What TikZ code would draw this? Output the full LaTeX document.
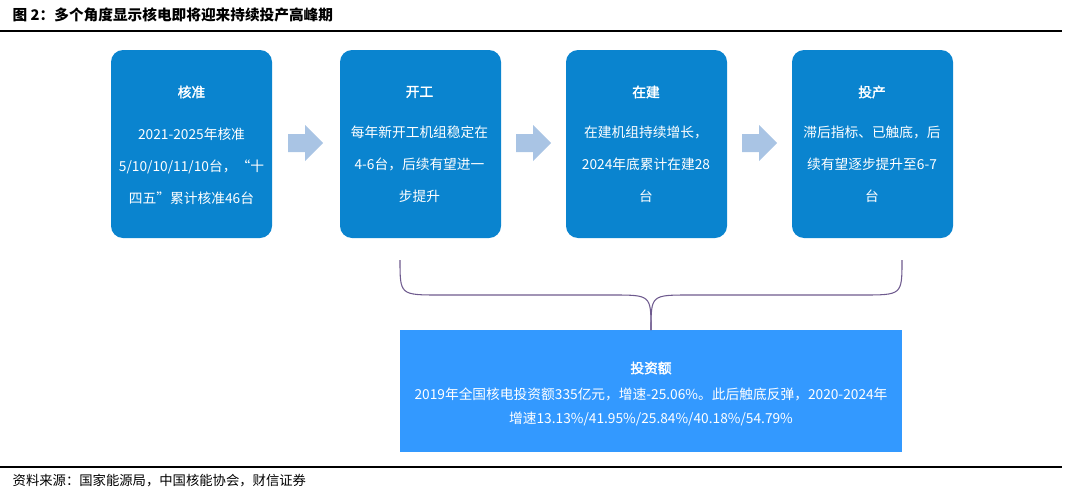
\documentclass[tikz,border=0pt]{standalone}
\usepackage{fontspec}
\newfontfamily\cjk{Noto Sans CJK SC}
\newfontfamily\cjkb{Noto Sans CJK SC}[FakeBold=2]
\definecolor{boxb}{HTML}{0A84CF}
\definecolor{botb}{HTML}{3399FF}
\definecolor{arr}{HTML}{A9C4E4}
\definecolor{brc}{HTML}{6E5A8E}
\begin{document}
\begin{tikzpicture}[x=0.75pt,y=-0.75pt,
  bx/.style={fill=boxb,rounded corners=9pt},
  tx/.style={text=white,font=\cjk\fontsize{10.3}{12}\selectfont,align=center},
  hd/.style={text=white,font=\cjkb\fontsize{10.3}{12}\selectfont}]
\useasboundingbox (0,0) rectangle (1066,496);
\node[anchor=west,font=\cjk\bfseries\fontsize{11}{13}\selectfont] (title) at (8,15) {图 2：多个角度显示核电即将迎来持续投产高峰期};
\draw[line width=0.8pt] (0,31) -- (1062,31);
\draw[line width=0.8pt] (0,467) -- (1062,467);
\node[anchor=west,font=\cjk\itshape\fontsize{10}{12}\selectfont] (src) at (8,481) {资料来源：国家能源局，中国核能协会，财信证券};
\foreach \n/\x in {a/111,b/340,c/566,d/792}{\fill[bx] (\x,50) rectangle ++(161,188);}
\node[hd] (ta) at (191.5,92) {核准};
\node[tx] (ba) at (191.5,166) {2021-2025年核准\\[12pt]5/10/10/11/10台，“十\\[12pt]四五”累计核准46台};
\node[hd] (tb) at (419.5,92) {开工};
\node[tx] (bb) at (419.5,164) {每年新开工机组稳定在\\[12pt]4-6台，后续有望进一\\[12pt]步提升};
\node[hd] (tc) at (646,92) {在建};
\node[tx] (bc) at (646,164) {在建机组持续增长，\\[12pt]2024年底累计在建28\\[12pt]台};
\node[hd] (td) at (872,92) {投产};
\node[tx] (bd) at (872,164) {滞后指标、已触底，后\\[12pt]续有望逐步提升至6-7\\[12pt]台};
\foreach \x in {288,516,742}{\fill[arr] (\x,134) -- ++(17,0) -- ++(0,-9) -- ++(18,18) -- ++(-18,18) -- ++(0,-9) -- ++(-17,0) -- cycle;}
\fill[botb] (400,330) rectangle (902,452);
\node[hd] (te) at (651,368) {投资额};
\node[tx] (be) at (651,407) {2019年全国核电投资额335亿元，增速-25.06\%。此后触底反弹，2020-2024年\\[6pt]增速13.13\%/41.95\%/25.84\%/40.18\%/54.79\%};
\draw[brc,line width=0.8pt] (400,260) .. controls (400,295) and (400,295) .. (440,295) -- (612,295) .. controls (651,295) and (651,295) .. (651,330);
\draw[brc,line width=0.8pt] (902,260) .. controls (902,295) and (902,295) .. (862,295) -- (690,295) .. controls (651,295) and (651,295) .. (651,330);
\end{tikzpicture}
\end{document}
